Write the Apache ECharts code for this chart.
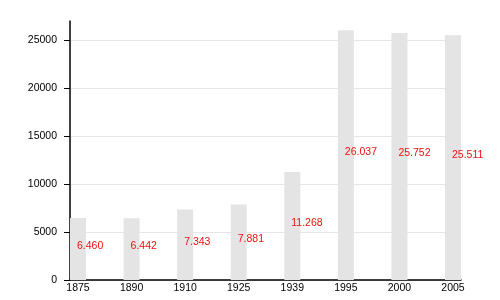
<!DOCTYPE html>
<html><head><meta charset="utf-8">
<script src="https://cdn.jsdelivr.net/npm/echarts@6/dist/echarts.min.js"></script>
<style>html,body{margin:0;padding:0;background:#fff}#c{width:500px;height:300px}</style>
</head><body><div id="c"></div>
<script>
const years = ['1875','1890','1910','1925','1939','1995','2000','2005'];
const population = [6460, 6442, 7343, 7881, 11268, 26037, 25752, 25511];
const yTicks = [0, 5000, 10000, 15000, 20000, 25000];

function fmt(v){ return String(v).replace(/\B(?=(\d{3})+(?!\d))/g, '.'); }

const font = 'Liberation Sans, Arial, sans-serif';
const yMax = 27000;
const gTop = 21, gBottom = 20, plotH = 300 - gTop - gBottom;
const tickTop = gTop + plotH * (1 - yTicks[yTicks.length-1] / yMax);
const chart = echarts.init(document.getElementById('c'), null, {renderer:'canvas'});
chart.setOption({
  animation: false,
  backgroundColor: '#fff',
  grid: [
    {left: 78, right: 47, top: gTop, bottom: gBottom},
    {left: 70, right: 39, top: tickTop, bottom: gBottom},
    {left: 70, right: 39, top: gTop, bottom: gBottom},
    {left: 64, width: 6, top: tickTop, bottom: gBottom}
  ],
  xAxis: [
    {type: 'category', gridIndex: 0, data: years, boundaryGap: false,
     axisLine: {show: false}, axisTick: {show: false},
     axisLabel: {color: '#000', fontFamily: font, fontSize: 10.5, margin: 3},
     splitLine: {show: false}},
    {type: 'value', gridIndex: 1, min: 0, max: 1, show: false},
    {type: 'value', gridIndex: 2, min: 0, max: 1,
     axisLine: {show: true, onZero: false, lineStyle: {color: '#000', width: 1.5}},
     axisTick: {show: false}, axisLabel: {show: false}, splitLine: {show: false}},
    {type: 'value', gridIndex: 3, min: 0, max: 1, show: false}
  ],
  yAxis: [
    {type: 'value', gridIndex: 0, min: 0, max: yMax, show: false, splitLine: {show: false}},
    {type: 'value', gridIndex: 1, min: 0, max: yTicks[yTicks.length-1], interval: 5000,
     axisLine: {show: false},
     axisTick: {show: true, length: 6, lineStyle: {color: '#000', width: 1}},
     axisLabel: {color: '#000', fontFamily: font, fontSize: 10.5, margin: 13,
       formatter: function(v){ return String(v); }},
     splitLine: {show: true, lineStyle: {color: '#e6e6e6', width: 1}}},
    {type: 'value', gridIndex: 2, min: 0, max: 1,
     axisLine: {show: true, lineStyle: {color: '#000', width: 1.5}},
     axisTick: {show: false}, axisLabel: {show: false}, splitLine: {show: false}},
    {type: 'value', gridIndex: 3, min: 0, max: yTicks[yTicks.length-1], interval: 5000,
     axisLine: {show: false}, axisTick: {show: false}, axisLabel: {show: false},
     splitLine: {show: true, lineStyle: {color: '#000', width: 1}}}
  ],
  series: [{
    type: 'bar', xAxisIndex: 0, yAxisIndex: 0,
    data: population, barWidth: 16,
    itemStyle: {color: '#e4e4e4'},
    label: {show: true, position: ['50%', '50%'], align: 'left', verticalAlign: 'middle',
      offset: [-1, -3], color: '#ee1111', fontFamily: font, fontSize: 10.5,
      formatter: function(p){ return fmt(p.value); }}
  }]
});
</script></body></html>
